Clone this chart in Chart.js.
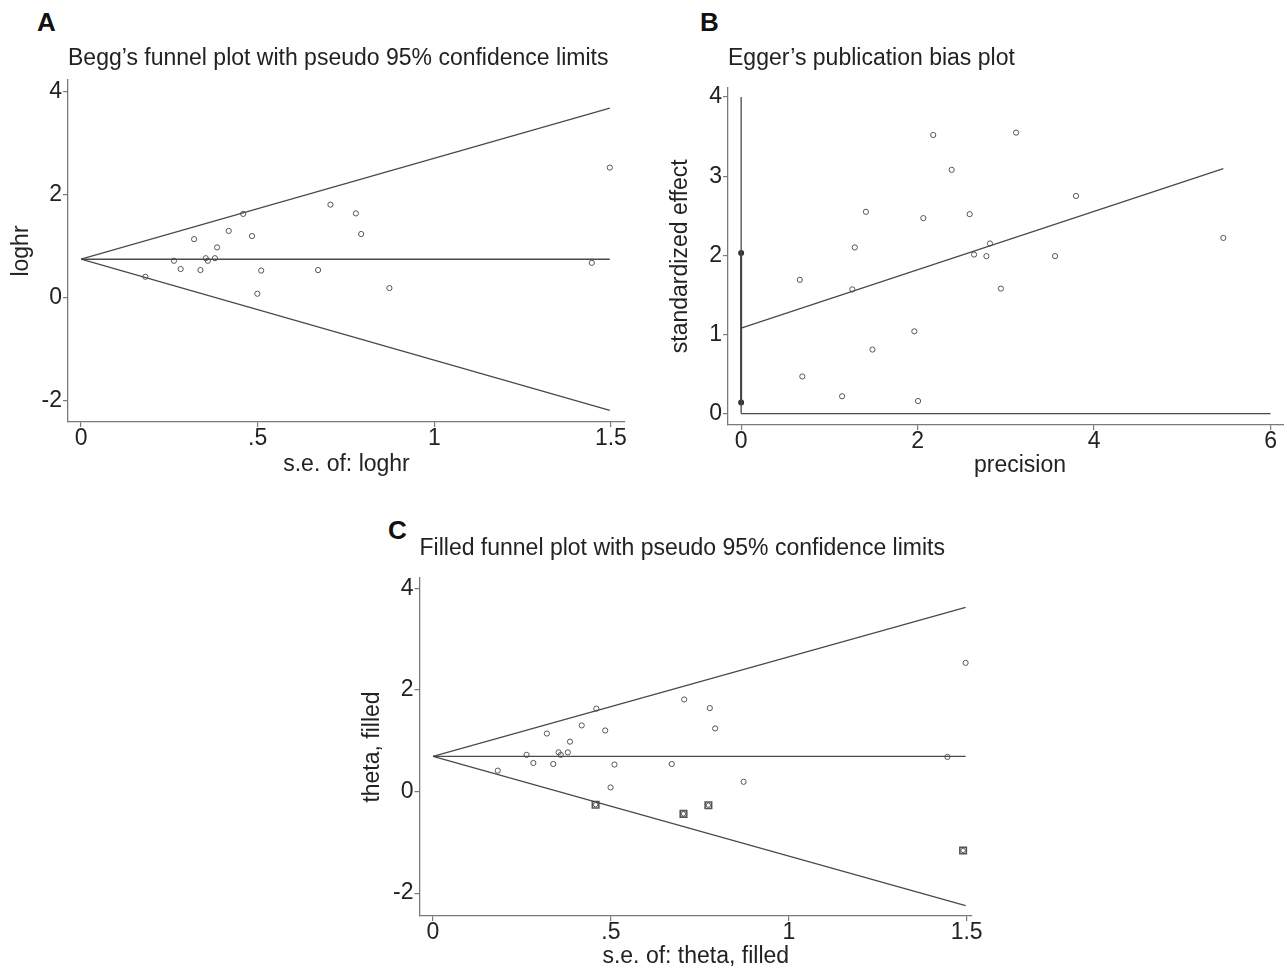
<!DOCTYPE html>
<html>
<head>
<meta charset="utf-8">
<script src="https://cdn.jsdelivr.net/npm/chart.js@4.4.1/dist/chart.umd.min.js"></script>
<style>
  html, body { margin: 0; padding: 0; background: #fff; overflow: hidden; width: 1284px; height: 967px; position: relative; }
  canvas { position: absolute; }
  .panel { position: absolute; font: bold 26px "Liberation Sans", Arial, sans-serif; color: #111; line-height: 1; }
</style>
</head>
<body>
<div class="panel" style="left:37px;top:9px">A</div>
<div class="panel" style="left:700px;top:9px">B</div>
<div class="panel" style="left:388px;top:517px">C</div>
<canvas id="chartA" width="660" height="480" style="left:0px;top:0px;width:660px;height:480px"></canvas>
<canvas id="chartB" width="690" height="480" style="left:640px;top:0px;width:690px;height:480px"></canvas>
<canvas id="chartC" width="680" height="480" style="left:340px;top:500px;width:680px;height:480px"></canvas>
<script>
// studies: standard error and log hazard ratio
const seA = [0.182, 0.263, 0.282, 0.320, 0.338, 0.353, 0.359, 0.379, 0.385, 0.418, 0.459,
             0.484, 0.499, 0.510, 0.671, 0.706, 0.778, 0.793, 0.873, 1.446, 1.497];
const logHRA = [0.41, 0.72, 0.56, 1.14, 0.54, 0.77, 0.72, 0.77, 0.98, 1.30, 1.63,
                1.20, 0.08, 0.53, 0.54, 1.81, 1.64, 1.24, 0.19, 0.68, 2.53];
const thetaA = 0.75;
const xTicksA = [0, 0.5, 1, 1.5];
const xLabelsA = ['0', '.5', '1', '1.5'];
const yTicksA = [-2, 0, 2, 4];

// Egger: precision vs standardized effect
const precisionB = [0.665, 0.693, 1.144, 1.26, 1.288, 1.414, 1.488, 1.963, 2.005, 2.065, 2.177,
                    2.386, 2.59, 2.64, 2.78, 2.82, 2.944, 3.116, 3.558, 3.795, 5.465];
const stdEffectB = [1.69, 0.47, 0.22, 1.57, 2.10, 2.55, 0.81, 1.04, 0.16, 2.47, 3.52,
                    3.08, 2.52, 2.01, 1.99, 2.15, 1.58, 3.55, 1.99, 2.75, 2.22];
const eggerIntercept = 1.08;
const eggerSlope = 0.369;
const eggerCI = [0.14, 2.03];
const xTicksB = [0, 2, 4, 6];
const yTicksB = [0, 1, 2, 3, 4];

// trim and fill: imputed studies
const seFilled = [0.457, 0.704, 0.774, 1.49];
const thetaFilled = [-0.26, -0.44, -0.27, -1.16];
const thetaC = 0.69;
const xLabelsC = ['0', '.5', '1', '1.5'];

const FONT = '"Liberation Sans", Arial, sans-serif';
const LINE = '#4a4a4a';
const AXIS = '#7a7a7a';
const PT = '#555';

function pts(xs, ys) {
    return xs.map((x, i) => ({x: x, y: ys[i]}));
}

function funnel(theta, seMax) {
    return [
        {data: [{x: 0, y: theta}, {x: seMax, y: theta + 1.96 * seMax}]},
        {data: [{x: 0, y: theta}, {x: seMax, y: theta - 1.96 * seMax}]},
        {data: [{x: 0, y: theta}, {x: seMax, y: theta}]}
    ].map(d => Object.assign(d, {showLine: true, borderColor: LINE, borderWidth: 1.3, pointRadius: 0}));
}

function axis(o) {
    return {
        type: 'linear',
        min: o.min, max: o.max,
        afterFit: s => { if (o.width) s.width = o.width; if (o.height) s.height = o.height; },
        afterBuildTicks: s => { s.ticks = o.ticks.map(v => ({value: v})); },
        grid: {display: true, drawOnChartArea: false, drawTicks: true, tickLength: 5, color: AXIS, lineWidth: 1.2},
        border: {display: true, color: AXIS, width: 1.3},
        ticks: {
            autoSkip: false, maxRotation: 0, padding: o.tickPad || 0,
            color: '#222', font: {family: FONT, size: 23, lineHeight: 1},
            callback: (v) => o.labels ? o.labels[o.ticks.indexOf(v)] : String(v)
        },
        title: {display: true, text: o.title, color: '#222', font: {family: FONT, size: 23, lineHeight: 1.2}, padding: o.titlePad}
    };
}

function baseOptions(o) {
    return {
        responsive: false,
        animation: false,
        layout: {padding: o.padding},
        plugins: {
            legend: {display: false},
            tooltip: {enabled: false},
            title: {
                display: true, text: o.title, align: 'start', fullSize: false,
                color: '#222', font: {family: FONT, size: 23, weight: 'normal', lineHeight: 1.2},
                padding: o.titlePad
            }
        },
        scales: {x: o.x, y: o.y}
    };
}

// A: Begg's funnel plot
new Chart(document.getElementById('chartA'), {
    type: 'scatter',
    data: {
        datasets: funnel(thetaA, Math.max(...seA)).concat([{
            data: pts(seA, logHRA), pointRadius: 2.6, pointBorderWidth: 1,
            pointBorderColor: PT, pointBackgroundColor: 'rgba(0,0,0,0)'
        }])
    },
    options: baseOptions({
        title: 'Begg\u2019s funnel plot with pseudo 95% confidence limits',
        titlePad: {top: 45.2, bottom: 7.2},
        padding: {left: 0, right: 35, top: 0, bottom: 0},
        x: axis({min: -0.037, max: 1.54, ticks: xTicksA, labels: xLabelsA, height: 58,
                 title: 's.e. of: loghr', titlePad: {top: 0, bottom: 1.2}}),
        y: axis({min: -2.41, max: 4.23, ticks: yTicksA, width: 68,
                 title: 'loghr', titlePad: {top: 8.2, bottom: 0}, tickPad: 1})
    })
});

// B: Egger's publication bias plot
const precMax = Math.max(...precisionB);
new Chart(document.getElementById('chartB'), {
    type: 'scatter',
    data: {
        datasets: [
            {data: [{x: 0, y: 0}, {x: 6, y: 0}], showLine: true, borderColor: LINE, borderWidth: 1.3, pointRadius: 0},
            {data: [{x: 0, y: 0}, {x: 0, y: 4}], showLine: true, borderColor: LINE, borderWidth: 1.3, pointRadius: 0},
            {data: [{x: 0, y: eggerCI[0]}, {x: 0, y: eggerCI[1]}], showLine: true, borderColor: '#333', borderWidth: 2,
             pointRadius: 2, pointBackgroundColor: '#333', pointBorderColor: '#333'},
            {data: [{x: 0, y: eggerIntercept}, {x: precMax, y: eggerIntercept + eggerSlope * precMax}],
             showLine: true, borderColor: LINE, borderWidth: 1.3, pointRadius: 0},
            {data: pts(precisionB, stdEffectB), pointRadius: 2.6, pointBorderWidth: 1,
             pointBorderColor: PT, pointBackgroundColor: 'rgba(0,0,0,0)'}
        ]
    },
    options: baseOptions({
        title: 'Egger\u2019s publication bias plot',
        titlePad: {top: 45.2, bottom: 14.7},
        padding: {left: 0, right: 18, top: 0, bottom: 0},
        x: axis({min: -0.149, max: 6.47, ticks: xTicksB, height: 55,
                 title: 'precision', titlePad: {top: 0, bottom: 0.2}}),
        y: axis({min: -0.143, max: 4.12, ticks: yTicksB, width: 88,
                 title: 'standardized effect', titlePad: {top: 27.2, bottom: 0}, tickPad: 1})
    })
});

// C: filled funnel plot
new Chart(document.getElementById('chartC'), {
    type: 'scatter',
    data: {
        datasets: funnel(thetaC, Math.max(...seA)).concat([
            {data: pts(seA, logHRA), pointRadius: 2.6, pointBorderWidth: 1,
             pointBorderColor: PT, pointBackgroundColor: 'rgba(0,0,0,0)'},
            {data: pts(seFilled, thetaFilled), pointStyle: 'rect', pointRadius: 4.6, pointBorderWidth: 1.6,
             pointBorderColor: '#555', pointBackgroundColor: 'rgba(0,0,0,0)'},
            {data: pts(seFilled, thetaFilled), pointRadius: 2.2, pointBorderWidth: 1,
             pointBorderColor: '#555', pointBackgroundColor: 'rgba(0,0,0,0)'}
        ])
    },
    options: baseOptions({
        title: 'Filled funnel plot with pseudo 95% confidence limits',
        titlePad: {top: 35.2, bottom: 15.2},
        padding: {left: 0, right: 48, top: 0, bottom: 0},
        x: axis({min: -0.038, max: 1.515, ticks: xTicksA, labels: xLabelsC, height: 64,
                 title: 's.e. of: theta, filled', titlePad: {top: 0, bottom: 9.2}, tickPad: 0}),
        y: axis({min: -2.45, max: 4.2, ticks: yTicksA, width: 79.5,
                 title: 'theta, filled', titlePad: {top: 19.2, bottom: 0}, tickPad: 1})
    })
});
</script>
</body>
</html>
